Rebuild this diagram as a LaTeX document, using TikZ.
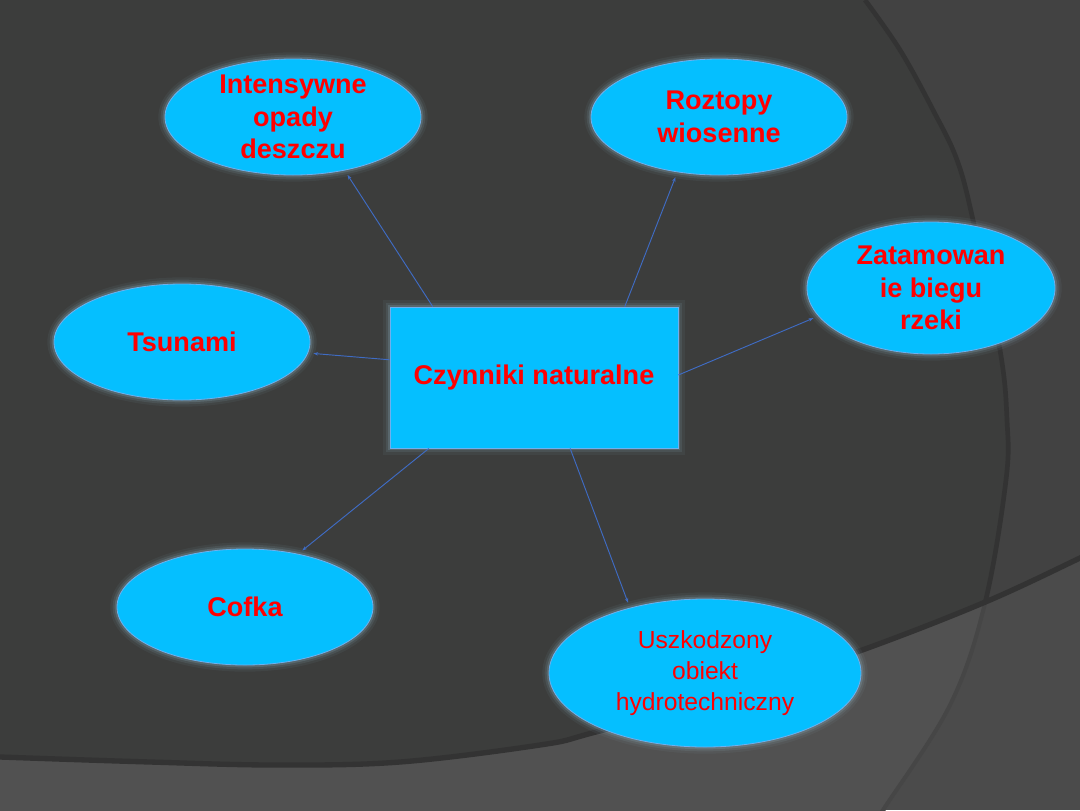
\documentclass[tikz,border=0pt]{standalone}
\usepackage{fontspec}
\setmainfont{Liberation Sans}
\usepackage{tikz}
\usetikzlibrary{arrows.meta,shapes.geometric}

\definecolor{bubble}{HTML}{05BFFF}
\definecolor{bubbleedge}{HTML}{6FB0EE}
\definecolor{halo}{HTML}{8FB2C2}
\definecolor{bgdark}{HTML}{3C3D3C}
\definecolor{bgmid}{HTML}{424242}
\definecolor{bglight}{HTML}{515151}
\definecolor{bgside}{HTML}{4B4B4B}
\definecolor{seam}{HTML}{333333}
\definecolor{seamfaint}{HTML}{464646}
\definecolor{linkc}{HTML}{3F6CC4}

\begin{document}
\begin{tikzpicture}[x=0.75pt, y=-0.75pt,
  glow/.style={preaction={draw=halo, line width=10pt, draw opacity=.07},
    preaction={draw=halo, line width=6.5pt, draw opacity=.12},
    preaction={draw=halo, line width=3.5pt, draw opacity=.22}},
  cause/.style={ellipse, glow, fill=bubble, draw=bubbleedge, line width=0.6pt,
    text=red, align=center, inner xsep=0pt, inner ysep=-6pt,
    font=\fontsize{20.3}{24.5}\selectfont\bfseries},
  core/.style={rectangle, glow, fill=bubble, draw=bubbleedge, line width=0.6pt,
    text=red, align=center, minimum width=216pt, minimum height=105.75pt,
    font=\fontsize{20.3}{24.5}\selectfont\bfseries},
  link/.style={-{Stealth[length=3.5pt, width=2.5pt]}, draw=linkc, line width=0.7pt,
    shorten >=4pt}
]
\useasboundingbox (0,0) rectangle (1080,810);
\fill[bgmid] (0,0) rectangle (1080,810);
\fill[bgdark] (0,0) -- plot[smooth, tension=0.6] coordinates {(865,0) (900,50) (933,110) (957,160) (973,220) (1000,350) (1007,420) (1006,480) (985,603) (950,705) (883,810) (870,830)} -- (0,830) -- cycle;
\draw[seam, line width=3.5pt] plot[smooth, tension=0.6] coordinates {(865,0) (900,50) (933,110) (957,160) (973,220) (1000,350) (1007,420) (1006,480) (985,603) (950,705) (883,810) (870,830)};
\begin{scope}
  \clip plot[smooth, tension=0.6] coordinates {(-20,756) (0,757) (150,762) (276,765) (400,762) (540,745) (592,733) (720,697) (854,653) (983,603) (1080,558) (1100,548)} -- (1100,830) -- (-20,830) -- cycle;
  \fill[bgside] (0,0) rectangle (1080,810);
  \fill[bglight] (0,0) -- plot[smooth, tension=0.6] coordinates {(865,0) (900,50) (933,110) (957,160) (973,220) (1000,350) (1007,420) (1006,480) (985,603) (950,705) (883,810) (870,830)} -- (0,830) -- cycle;
  \draw[seamfaint, line width=3pt] plot[smooth, tension=0.6] coordinates {(865,0) (900,50) (933,110) (957,160) (973,220) (1000,350) (1007,420) (1006,480) (985,603) (950,705) (883,810) (870,830)};
\end{scope}
\draw[seam, line width=4pt] plot[smooth, tension=0.6] coordinates {(-20,756) (0,757) (150,762) (276,765) (400,762) (540,745) (592,733) (720,697) (854,653) (983,603) (1080,558) (1100,548)};

\node[core] (core) at (534,377.5) {Czynniki naturalne};
\node[cause, minimum width=192pt, minimum height=87pt] (rain) at (293,117) {Intensywne\\opady\\deszczu};
\node[cause, minimum width=192pt, minimum height=87pt] (thaw) at (719,117) {Roztopy\\wiosenne};
\node[cause, minimum width=186pt, minimum height=99pt] (jam) at (931,288) {Zatamowan\\ie biegu\\rzeki};
\node[cause, minimum width=192pt, minimum height=87pt] (tsunami) at (182,342) {Tsunami};
\node[cause, minimum width=192pt, minimum height=87pt] (cofka) at (245,607) {Cofka};
\node[cause, minimum width=234pt, minimum height=111pt,
  font=\fontsize{18.5}{23}\selectfont] (dam) at (705,673) {Uszkodzony\\obiekt\\hydrotechniczny};

\draw[link] (core.145.9) -- (rain.-46);
\draw[link] (core.38.4) -- (thaw.-127);
\draw[link] (core.1) -- (jam.-166);
\draw[link] (core.173.6) -- (tsunami.-5);
\draw[link] (core.-146) -- (cofka.45);
\draw[link] (core.-63.7) -- (dam.139.5);
\end{tikzpicture}
\end{document}
